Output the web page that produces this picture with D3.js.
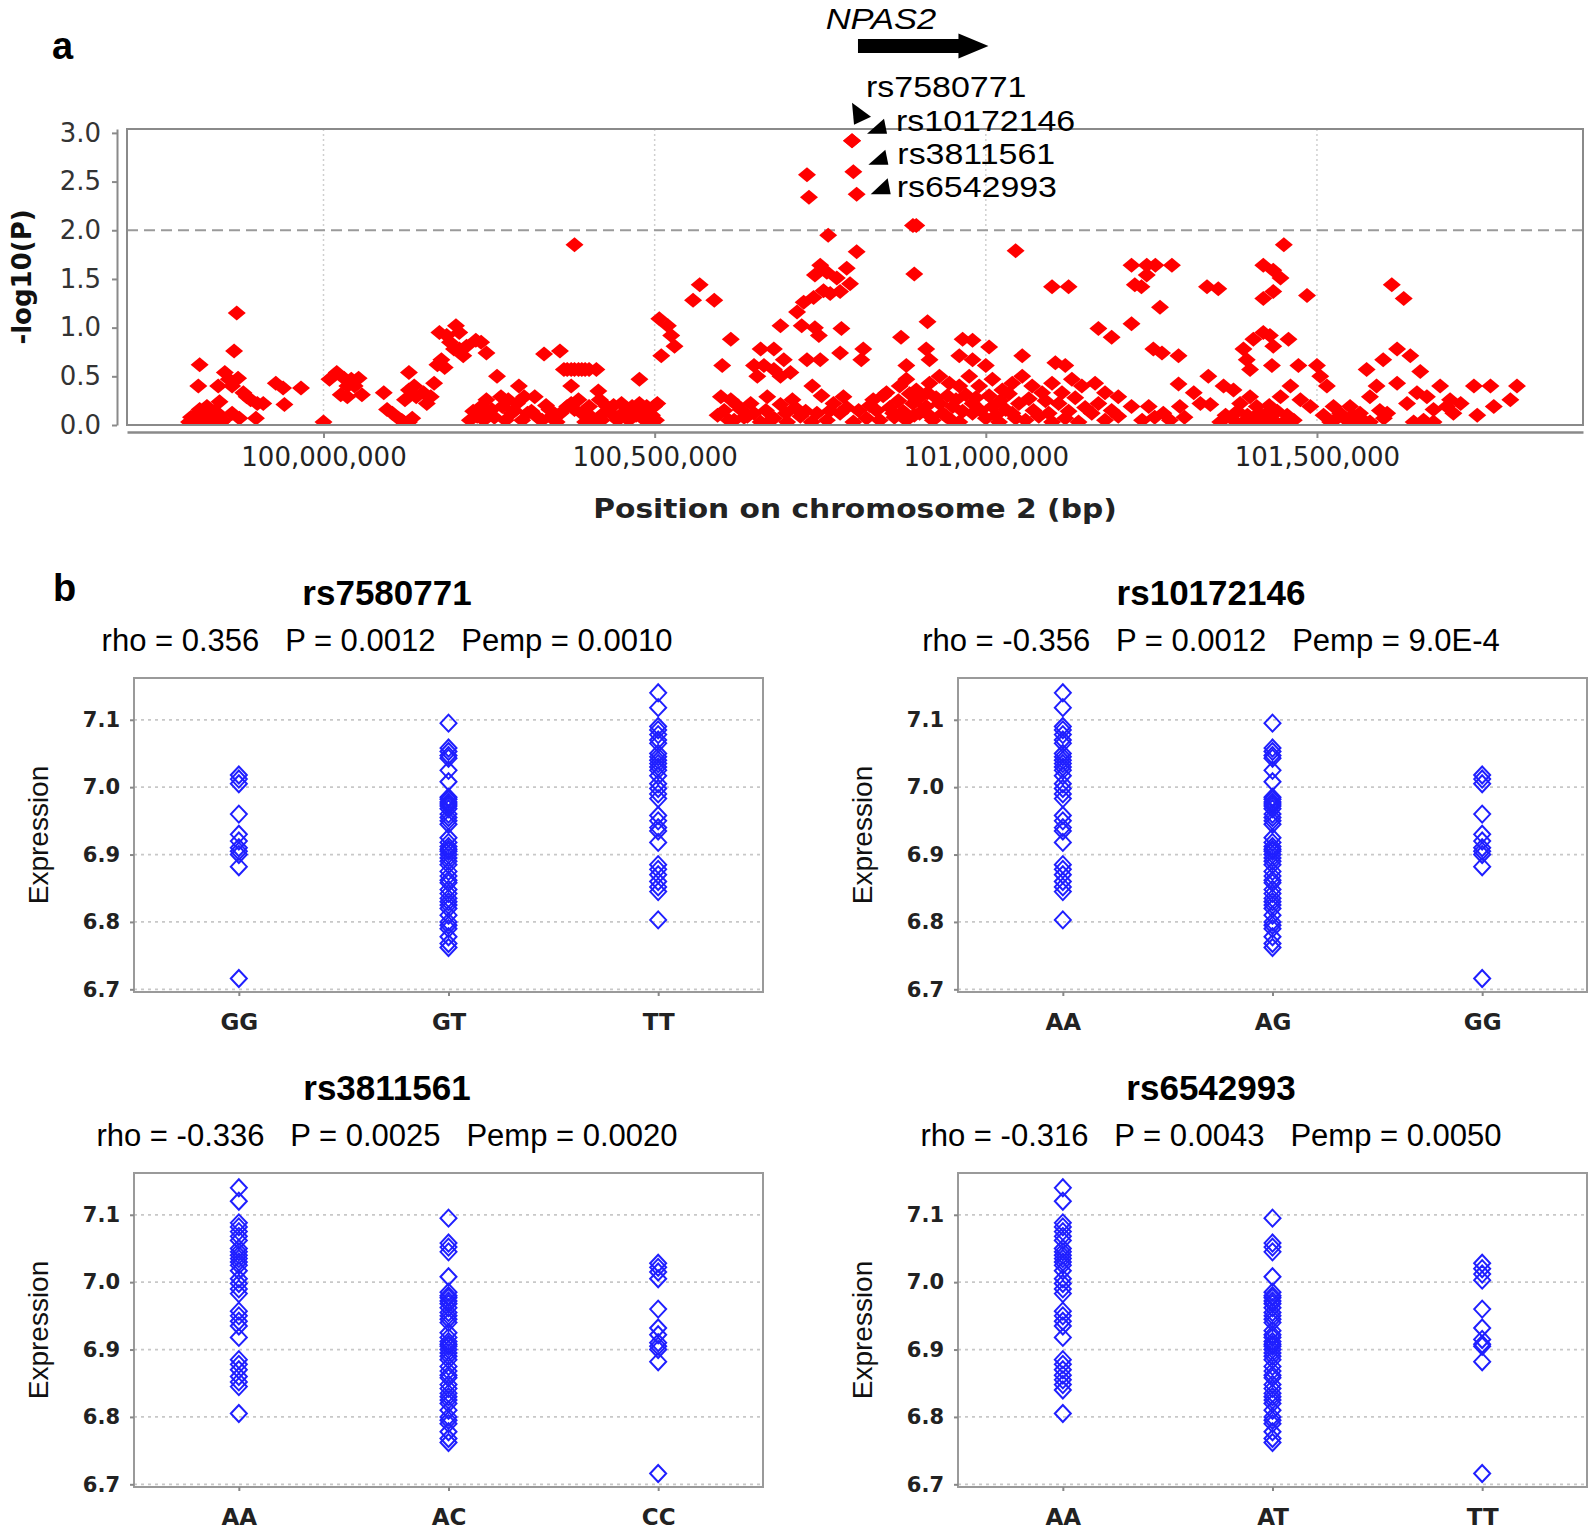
<!DOCTYPE html>
<html>
<head>
<meta charset="utf-8">
<script src="https://cdn.jsdelivr.net/npm/d3@7"></script>
<style>
  body { margin: 0; background: #fff; }
  svg { display: block; }
</style>
</head>
<body>
<script>
// panel a: SNPs around NPAS2, [position in Mb on chr2, -log10(P)]
let westSnps = [
  [99.797,0.03],[99.803,0.02],[99.805,0.09],[99.811,0.04],[99.813,0.16],[99.819,0.12],[99.822,0.02],[99.824,0.19],[99.827,0.03],[99.830,0.09],[99.835,0.14],[99.838,0.03],[99.841,0.07],[99.846,0.03],
  [99.800,0.08],[99.808,0.05],[99.816,0.07],[99.832,0.05],[99.844,0.10],[99.849,0.05],
  [99.813,0.62],[99.811,0.40],[99.843,0.24],[99.841,0.40],[99.851,0.54],[99.857,0.47],[99.862,0.40],[99.865,0.76],[99.869,1.15],[99.871,0.48],[99.862,0.12],[99.873,0.07],[99.879,0.33],[99.884,0.29],[99.890,0.26],[99.898,0.07],[99.900,0.22],[99.909,0.22],[99.928,0.43],[99.939,0.38],[99.941,0.21],[99.966,0.38],
  [100.000,0.03],[100.009,0.47],[100.020,0.54],[100.031,0.48],[100.042,0.47],[100.053,0.48],[100.036,0.40],[100.026,0.31],[100.036,0.29],[100.058,0.31],[100.047,0.40],
  [100.091,0.33],[100.096,0.16],[100.104,0.12],[100.113,0.07],[100.121,0.03],[100.129,0.54],[100.123,0.26],[100.129,0.36],[100.137,0.40],[100.140,0.29],[100.151,0.33],[100.156,0.22],[100.162,0.29],[100.167,0.43],[100.172,0.62],[100.178,0.67],[100.183,0.59],[100.175,0.95],[100.186,0.92],[100.200,1.02],[100.205,0.95],[100.191,0.85],[100.197,0.78],[100.211,0.71],[100.216,0.81],[100.230,0.87],[100.238,0.85],[100.246,0.74],[100.205,0.78],[100.118,0.05],[100.129,0.03],[100.134,0.07],
  [100.221,0.05],[100.232,0.09],[100.238,0.19],[100.246,0.26],[100.249,0.12],[100.254,0.16],[100.262,0.50],[100.268,0.29],[100.270,0.19],[100.279,0.26],[100.284,0.12],[100.292,0.22],[100.295,0.40],[100.303,0.29],[100.308,0.12],[100.319,0.29],[100.325,0.07],[100.333,0.73],[100.341,0.16],[100.352,0.03],[100.357,0.76],
  [100.226,0.14],[100.242,0.05],[100.258,0.08],[100.275,0.05],[100.288,0.15],[100.300,0.05],[100.314,0.14],[100.330,0.05],[100.336,0.20],[100.346,0.10],[100.358,0.12],
  [100.363,0.57],[100.368,0.57],[100.374,0.57],[100.379,0.57],[100.385,0.57],[100.390,0.57],[100.395,0.57],[100.401,0.57],[100.412,0.57],[100.379,1.85],[100.374,0.40],[100.368,0.19],[100.374,0.22],[100.379,0.16],[100.385,0.26],[100.390,0.12],[100.401,0.19],[100.415,0.35],[100.417,0.26],[100.423,0.12],[100.428,0.19],[100.434,0.12],[100.444,0.05],[100.450,0.22],[100.455,0.12],[100.466,0.19],[100.477,0.47],[100.477,0.22],[100.483,0.16],[100.488,0.19],[100.499,0.19],[100.504,0.22],[100.507,1.09],[100.510,0.71],[100.461,0.05],[100.493,0.05],[100.412,0.05],[100.395,0.03],
  [100.405,0.08],[100.420,0.05],[100.438,0.20],[100.448,0.10],[100.472,0.10],[100.485,0.05],[100.496,0.10],[100.502,0.05]
];
let centreSnps = [
  [100.730,2.57],[100.733,2.34],[100.762,1.95],[100.890,2.05],[100.895,2.05],[100.805,1.78],[100.750,1.64],[100.742,1.54],[100.760,1.57],[100.790,1.61],[100.775,1.51],[100.795,1.45],[100.780,1.37],[100.765,1.35],[100.755,1.38],[100.740,1.31],[100.725,1.26],[100.715,1.16],[100.892,1.55],[101.045,1.79],[101.100,1.42],[101.125,1.42],[101.220,1.64],[101.225,1.44],
  [100.568,1.44],[100.558,1.28],[100.590,1.28],[100.520,1.02],[100.525,0.92],[100.530,0.81],[100.615,0.88],[100.690,1.02],[100.722,1.02],[100.748,0.92],[100.742,1.00],[100.782,0.99],[100.912,1.06],[100.872,0.90],[101.005,0.80],[100.965,0.88],[100.980,0.87],[101.170,0.99],[101.190,0.90],[101.220,1.04],
  [100.602,0.61],[100.660,0.78],[100.680,0.78],[100.650,0.61],[100.665,0.61],[100.680,0.57],[100.695,0.67],[100.705,0.54],[100.730,0.67],[100.750,0.67],[100.780,0.74],[100.815,0.78],[100.812,0.67],[100.655,0.50],[100.690,0.50],[100.910,0.78],[100.915,0.67],[100.880,0.61],[100.960,0.71],[100.980,0.67],[101.000,0.61],[101.055,0.71],[101.105,0.64],[101.120,0.61],
  [100.738,0.40],[100.670,0.29],[100.690,0.21],[100.708,0.26],[100.600,0.29],[100.615,0.26],[100.630,0.16],[100.645,0.22],[100.770,0.22],[100.785,0.29],[100.830,0.26],[100.850,0.33],[100.870,0.40],[100.880,0.47],[100.895,0.36],[100.915,0.43],[100.930,0.50],[100.945,0.43],[100.960,0.40],[100.975,0.50],[100.990,0.40],[101.010,0.47],[101.025,0.36],[101.040,0.43],[101.055,0.50],[101.070,0.40],[101.085,0.33],[101.100,0.43],[101.115,0.33],[101.130,0.47],[101.145,0.40],[101.165,0.43],[101.180,0.33],[101.200,0.29],[101.220,0.19],
  [100.620,0.05],[100.640,0.09],[100.660,0.03],[100.680,0.07],[100.700,0.03],[100.720,0.09],[100.737,0.03],[100.760,0.05],[100.780,0.12],[100.800,0.03],[100.820,0.07],[100.840,0.05],[100.860,0.12],[100.880,0.05],[100.900,0.12],[100.920,0.05],[100.940,0.09],[100.960,0.03],[100.980,0.12],[101.000,0.07],[101.020,0.03],[101.040,0.12],[101.060,0.05],[101.080,0.09],[101.100,0.03],[101.120,0.07],[101.140,0.03],[101.160,0.12],[101.180,0.05],[101.200,0.09],[100.980,0.22],[100.950,0.19],[100.930,0.22],[100.910,0.19],[100.890,0.22],[101.010,0.19],[101.050,0.22],
  [100.595,0.10],[100.605,0.15],[100.612,0.05],[100.625,0.20],[100.635,0.08],[100.650,0.12],[100.668,0.15],[100.675,0.05],[100.698,0.12],[100.712,0.18],[100.728,0.14],[100.745,0.12],[100.752,0.30],[100.765,0.15],[100.790,0.18],[100.808,0.15],[100.825,0.20],
  [100.835,0.15],[100.845,0.30],[100.855,0.18],[100.862,0.08],[100.868,0.25],[100.875,0.14],[100.885,0.32],[100.892,0.10],[100.898,0.27],[100.905,0.15],[100.912,0.33],[100.918,0.08],[100.925,0.28],[100.935,0.12],[100.942,0.30],[100.948,0.05],[100.955,0.26],[100.965,0.14],[100.970,0.31],[100.985,0.28],[100.992,0.15],[101.005,0.30],[101.015,0.10],[101.022,0.25],[101.030,0.16],[101.035,0.32],[101.045,0.07],[101.065,0.27],[101.072,0.15],[101.090,0.25],[101.095,0.12],[101.110,0.22],[101.125,0.14],[101.135,0.28],[101.150,0.18],[101.170,0.22],[101.190,0.15]
];
let eastSnps = [
  [101.243,1.64],[101.256,1.64],[101.281,1.64],[101.243,1.54],[101.235,1.42],[101.263,1.21],[101.334,1.42],[101.351,1.40],[101.419,1.64],[101.434,1.59],[101.445,1.51],[101.419,1.30],[101.434,1.37],[101.450,1.85],[101.485,1.33],[101.613,1.44],[101.631,1.30],
  [101.253,0.78],[101.266,0.74],[101.291,0.71],[101.389,0.78],[101.404,0.88],[101.419,0.95],[101.429,0.92],[101.434,0.81],[101.457,0.88],[101.394,0.67],[101.399,0.57],[101.432,0.61],[101.472,0.61],[101.500,0.61],[101.505,0.50],[101.621,0.78],[101.641,0.71],[101.600,0.67],[101.575,0.57],[101.656,0.55],[101.336,0.50],[101.291,0.42],[101.314,0.33],
  [101.246,0.19],[101.268,0.12],[101.293,0.19],[101.324,0.22],[101.339,0.21],[101.359,0.40],[101.374,0.36],[101.384,0.22],[101.399,0.29],[101.409,0.19],[101.424,0.12],[101.445,0.29],[101.460,0.40],[101.475,0.26],[101.490,0.19],[101.515,0.40],[101.525,0.19],[101.535,0.12],[101.550,0.19],[101.565,0.12],[101.580,0.29],[101.590,0.40],[101.606,0.12],[101.621,0.43],[101.636,0.22],[101.651,0.33],[101.666,0.29],[101.686,0.40],[101.701,0.26],[101.717,0.22],[101.737,0.40],[101.762,0.40],[101.767,0.19],[101.792,0.26],[101.802,0.40],[101.742,0.10],[101.676,0.16],[101.696,0.19],[101.706,0.12],
  [101.354,0.03],[101.374,0.05],[101.389,0.03],[101.404,0.05],[101.419,0.03],[101.434,0.05],[101.450,0.03],[101.520,0.03],[101.530,0.07],[101.545,0.05],[101.560,0.03],[101.580,0.03],[101.601,0.07],[101.646,0.03],[101.661,0.05],[101.676,0.03],
  [101.236,0.05],[101.255,0.08],[101.278,0.05],[101.300,0.08],[101.362,0.10],[101.380,0.14],[101.395,0.10],[101.412,0.12],[101.428,0.20],[101.440,0.14],[101.455,0.10],[101.465,0.05],[101.510,0.10],[101.540,0.08],[101.555,0.10],[101.570,0.05],[101.595,0.15]
];

// the four labelled SNPs
let leadSnps = ["rs7580771", "rs10172146", "rs3811561", "rs6542993"];
let leadPos = [100.798, 100.798, 100.800, 100.805];
let leadLogP = [2.92, 2.92, 2.60, 2.37];

let npas2Start = 100.807, npas2End = 101.004;   // Mb

let xTicks = [100000000, 100500000, 101000000, 101500000];
let yTicks = [0, 0.5, 1.0, 1.5, 2.0, 2.5, 3.0];
let threshold = 2.0;

// panel b: expression by genotype
let snpTitles = ["rs7580771", "rs10172146", "rs3811561", "rs6542993"];
let snpStats = [
  "rho = 0.356   P = 0.0012   Pemp = 0.0010",
  "rho = -0.356   P = 0.0012   Pemp = 9.0E-4",
  "rho = -0.336   P = 0.0025   Pemp = 0.0020",
  "rho = -0.316   P = 0.0043   Pemp = 0.0050"
];
let genotypes = [["GG", "GT", "TT"], ["AA", "AG", "GG"], ["AA", "AC", "CC"], ["AA", "AT", "TT"]];
let exprTicks = [6.7, 6.8, 6.9, 7.0, 7.1];

let rs7580771_GG = [7.018, 7.012, 7.005, 6.960, 6.930, 6.920, 6.910, 6.905, 6.900, 6.882, 6.716];
let rs7580771_GT = [7.095, 7.058, 7.053, 7.047, 7.043, 7.025, 7.008, 6.985, 6.982, 6.978, 6.975, 6.972, 6.968, 6.960, 6.955, 6.950, 6.945, 6.925, 6.918, 6.912, 6.908, 6.905, 6.900, 6.895, 6.890, 6.885, 6.875, 6.868, 6.862, 6.858, 6.848, 6.842, 6.835, 6.830, 6.825, 6.820, 6.810, 6.800, 6.795, 6.790, 6.778, 6.768, 6.762];
let rs7580771_TT = [7.140, 7.118, 7.090, 7.085, 7.078, 7.070, 7.065, 7.050, 7.045, 7.040, 7.035, 7.030, 7.025, 7.017, 7.005, 6.998, 6.990, 6.983, 6.958, 6.950, 6.940, 6.935, 6.918, 6.885, 6.878, 6.870, 6.860, 6.852, 6.845, 6.803];

let rs10172146_AA = [7.140, 7.118, 7.090, 7.085, 7.078, 7.070, 7.065, 7.050, 7.045, 7.040, 7.035, 7.030, 7.025, 7.017, 7.005, 6.998, 6.990, 6.983, 6.958, 6.950, 6.940, 6.935, 6.918, 6.885, 6.878, 6.870, 6.860, 6.852, 6.845, 6.803];
let rs10172146_AG = [7.095, 7.058, 7.053, 7.047, 7.043, 7.025, 7.008, 6.985, 6.982, 6.978, 6.975, 6.972, 6.968, 6.960, 6.955, 6.950, 6.945, 6.925, 6.918, 6.912, 6.908, 6.905, 6.900, 6.895, 6.890, 6.885, 6.875, 6.868, 6.862, 6.858, 6.848, 6.842, 6.835, 6.830, 6.825, 6.820, 6.810, 6.800, 6.795, 6.790, 6.778, 6.768, 6.762];
let rs10172146_GG = [7.018, 7.012, 7.005, 6.960, 6.930, 6.920, 6.910, 6.905, 6.900, 6.882, 6.716];

let rs3811561_AA = [7.140, 7.120, 7.088, 7.082, 7.075, 7.068, 7.062, 7.050, 7.045, 7.040, 7.035, 7.030, 7.025, 7.017, 7.005, 6.998, 6.990, 6.983, 6.957, 6.950, 6.942, 6.935, 6.918, 6.885, 6.878, 6.870, 6.860, 6.852, 6.845, 6.805];
let rs3811561_AC = [7.095, 7.058, 7.052, 7.045, 7.008, 6.985, 6.980, 6.977, 6.972, 6.968, 6.962, 6.955, 6.950, 6.945, 6.940, 6.925, 6.918, 6.912, 6.908, 6.905, 6.900, 6.895, 6.890, 6.885, 6.875, 6.868, 6.862, 6.858, 6.848, 6.842, 6.835, 6.830, 6.825, 6.820, 6.810, 6.800, 6.795, 6.790, 6.778, 6.768, 6.762];
let rs3811561_CC = [7.028, 7.022, 7.015, 7.005, 6.960, 6.932, 6.922, 6.910, 6.905, 6.900, 6.882, 6.716];

let rs6542993_AA = [7.140, 7.120, 7.088, 7.082, 7.075, 7.068, 7.062, 7.050, 7.045, 7.040, 7.035, 7.030, 7.025, 7.017, 7.005, 6.998, 6.990, 6.983, 6.957, 6.950, 6.942, 6.935, 6.918, 6.885, 6.878, 6.870, 6.862, 6.855, 6.848, 6.840, 6.805];
let rs6542993_AT = [7.095, 7.058, 7.052, 7.045, 7.008, 6.985, 6.980, 6.977, 6.972, 6.968, 6.962, 6.955, 6.950, 6.945, 6.940, 6.928, 6.922, 6.918, 6.912, 6.908, 6.905, 6.900, 6.895, 6.890, 6.885, 6.875, 6.868, 6.862, 6.858, 6.848, 6.842, 6.835, 6.830, 6.825, 6.820, 6.810, 6.800, 6.795, 6.790, 6.778, 6.768, 6.762];
let rs6542993_TT = [7.028, 7.020, 7.012, 7.003, 6.960, 6.932, 6.915, 6.908, 6.905, 6.882, 6.716];

let exprData = [
  [rs7580771_GG, rs7580771_GT, rs7580771_TT],
  [rs10172146_AA, rs10172146_AG, rs10172146_GG],
  [rs3811561_AA, rs3811561_AC, rs3811561_CC],
  [rs6542993_AA, rs6542993_AT, rs6542993_TT]
];


let svgWidth = 1595;
let svgHeight = 1530;

let svg = d3.select("body")
    .append("svg")
    .attr("width", svgWidth)
    .attr("height", svgHeight)
    .style("font-family", "'Liberation Sans', Arial, sans-serif");

// stretch a text horizontally so it reads like the wider font of the original
function widen(sel, k) {
    let w = sel.node().getComputedTextLength();
    sel.attr("textLength", w * k).attr("lengthAdjust", "spacingAndGlyphs");
}

// ================= panel a =================
let frameA = { left: 127, right: 1583, top: 129, bottom: 425 };

let xScale = d3.scaleLinear()
    .domain([99.7033e6, 101.9017e6])
    .range([frameA.left, frameA.right]);

let yScale = d3.scaleLinear()
    .domain([0, 3.04])
    .range([frameA.bottom, frameA.top]);

svg.append("defs").append("clipPath")
    .attr("id", "clipA")
    .append("rect")
    .attr("x", frameA.left)
    .attr("y", frameA.top)
    .attr("width", frameA.right - frameA.left)
    .attr("height", frameA.bottom - frameA.top);

// vertical dotted gridlines
svg.append("g").selectAll("line")
    .data(xTicks)
    .enter()
    .append("line")
    .attr("x1", d => xScale(d))
    .attr("x2", d => xScale(d))
    .attr("y1", frameA.top)
    .attr("y2", frameA.bottom)
    .attr("stroke", "#cfcfcf")
    .attr("stroke-width", 1.5)
    .attr("stroke-dasharray", "2,3");

// significance line
svg.append("line")
    .attr("x1", frameA.left)
    .attr("x2", frameA.right)
    .attr("y1", yScale(threshold))
    .attr("y2", yScale(threshold))
    .attr("stroke", "#9a9a9a")
    .attr("stroke-width", 2)
    .attr("stroke-dasharray", "11,6");

let allSnps = westSnps.concat(centreSnps, eastSnps);
leadPos.forEach(function (p, i) { allSnps.push([p, leadLogP[i]]); });

let redDiamond = "M-9,0L0,-7.5L9,0L0,7.5Z";

svg.append("g")
    .attr("clip-path", "url(#clipA)")
    .selectAll("path")
    .data(allSnps)
    .enter()
    .append("path")
    .attr("d", redDiamond)
    .attr("transform", d => "translate(" + xScale(d[0] * 1e6) + "," + yScale(d[1]) + ")")
    .attr("fill", "#ff0000");

// plot frame
svg.append("rect")
    .attr("x", frameA.left)
    .attr("y", frameA.top)
    .attr("width", frameA.right - frameA.left)
    .attr("height", frameA.bottom - frameA.top)
    .attr("fill", "none")
    .attr("stroke", "#8a8a8a")
    .attr("stroke-width", 2);

let yAxisA = d3.axisLeft(yScale)
    .tickValues(yTicks)
    .tickFormat(d3.format(".1f"))
    .tickSize(5)
    .tickSizeOuter(0)
    .tickPadding(11);

let gy = svg.append("g")
    .attr("transform", "translate(117,0)")
    .call(yAxisA);
gy.select(".domain").attr("stroke", "#8a8a8a").attr("stroke-width", 2);
gy.selectAll(".tick line").attr("stroke", "#8a8a8a").attr("stroke-width", 2);
gy.selectAll("text")
    .attr("font-family", "'DejaVu Sans', Verdana, sans-serif")
    .attr("font-size", 26)
    .attr("fill", "#333");

let xAxisA = d3.axisBottom(xScale)
    .tickValues(xTicks)
    .tickFormat(d3.format(","))
    .tickSize(6)
    .tickSizeOuter(0)
    .tickPadding(10);

let gx = svg.append("g")
    .attr("transform", "translate(0,432)")
    .call(xAxisA);
gx.select(".domain").attr("stroke", "#8a8a8a").attr("stroke-width", 2.5);
gx.selectAll(".tick line").attr("stroke", "#8a8a8a").attr("stroke-width", 2);
gx.selectAll("text")
    .attr("font-family", "'DejaVu Sans', Verdana, sans-serif")
    .attr("font-size", 26)
    .attr("fill", "#222");

let xTitle = svg.append("text")
    .attr("x", (frameA.left + frameA.right) / 2)
    .attr("y", 518)
    .attr("text-anchor", "middle")
    .attr("font-family", "'DejaVu Sans', Verdana, sans-serif")
    .attr("font-weight", "bold")
    .attr("font-size", 27)
    .attr("fill", "#222")
    .text("Position on chromosome 2 (bp)");
widen(xTitle, 1.1);

svg.append("text")
    .attr("transform", "translate(31," + (frameA.top + frameA.bottom) / 2 + ") rotate(-90)")
    .attr("text-anchor", "middle")
    .attr("font-family", "'DejaVu Sans', Verdana, sans-serif")
    .attr("font-weight", "bold")
    .attr("font-size", 26)
    .attr("fill", "#111")
    .text("-log10(P)");

// panel letter
svg.append("text")
    .attr("x", 52)
    .attr("y", 59)
    .attr("font-weight", "bold")
    .attr("font-size", 38)
    .text("a");

// gene arrow for NPAS2
let ax0 = xScale(npas2Start * 1e6), ax1 = xScale(npas2End * 1e6);
let ay = 46;
svg.append("path")
    .attr("d", "M" + ax0 + "," + (ay - 7) + "L" + (ax1 - 30) + "," + (ay - 7) + "L" + (ax1 - 30) + "," + (ay - 12.5) +
        "L" + ax1 + "," + ay + "L" + (ax1 - 30) + "," + (ay + 12.5) + "L" + (ax1 - 30) + "," + (ay + 7) + "L" + ax0 + "," + (ay + 7) + "Z")
    .attr("fill", "#000");

let geneLabel = svg.append("text")
    .attr("x", ax0 + 23)
    .attr("y", 29)
    .attr("text-anchor", "middle")
    .attr("font-style", "italic")
    .attr("font-size", 30)
    .text("NPAS2");
widen(geneLabel, 1.15);

// labels for the lead SNPs (offsets from their point)
let labelOffset = [[14, -44], [44, -10], [44, -8], [40, 3]];
let pointerShape = [
    [[-14, 6], [5, 20], [-12, 28]],
    [[-29, 3], [-9, 3], [-12, -12]],
    [[-29, 1], [-9, 1], [-12, -14]],
    [[-26, -3], [-6, -3], [-9, -19]]
];

leadSnps.forEach(function (name, i) {
    let tx = xScale(leadPos[i] * 1e6) + labelOffset[i][0];
    let ty = yScale(leadLogP[i]) + labelOffset[i][1];
    let t = svg.append("text")
        .attr("x", tx)
        .attr("y", ty)
        .attr("font-size", 29)
        .attr("fill", "#000")
        .text(name);
    widen(t, 1.17);
    svg.append("path")
        .attr("d", "M" + pointerShape[i].map(p => (tx + p[0]) + "," + (ty + p[1])).join("L") + "Z")
        .attr("fill", "#000");
});

// ================= panel b =================
svg.append("text")
    .attr("x", 53)
    .attr("y", 601)
    .attr("font-weight", "bold")
    .attr("font-size", 38)
    .text("b");

let blueDiamond = "M-8,0L0,-8.5L8,0L0,8.5Z";
let chartShift = [[0, 0], [824, 0], [0, 495], [824, 495]];

function drawExpression(i) {
    let g = svg.append("g")
        .attr("transform", "translate(" + chartShift[i][0] + "," + chartShift[i][1] + ")");

    let x = d3.scalePoint()
        .domain(genotypes[i])
        .range([134, 763])
        .padding(0.5);

    let y = d3.scaleLinear()
        .domain([6.696, 7.162])
        .range([992, 678]);

    g.append("g").selectAll("line")
        .data(exprTicks)
        .enter()
        .append("line")
        .attr("x1", 134)
        .attr("x2", 763)
        .attr("y1", d => y(d))
        .attr("y2", d => y(d))
        .attr("stroke", "#c8c8c8")
        .attr("stroke-width", 1.8)
        .attr("stroke-dasharray", "3,4");

    genotypes[i].forEach(function (gt, j) {
        g.append("g").selectAll("path")
            .data(exprData[i][j])
            .enter()
            .append("path")
            .attr("d", blueDiamond)
            .attr("transform", d => "translate(" + x(gt) + "," + y(d) + ")")
            .attr("fill", "none")
            .attr("stroke", "#1f1fff")
            .attr("stroke-width", 2);
    });

    g.append("rect")
        .attr("x", 134)
        .attr("y", 678)
        .attr("width", 629)
        .attr("height", 314)
        .attr("fill", "none")
        .attr("stroke", "#9a9a9a")
        .attr("stroke-width", 2);

    let ya = g.append("g")
        .attr("transform", "translate(134,0)")
        .call(d3.axisLeft(y).tickValues(exprTicks).tickFormat(d3.format(".1f")).tickSize(4).tickSizeOuter(0).tickPadding(10));
    ya.select(".domain").remove();
    ya.selectAll(".tick line").attr("stroke", "#888").attr("stroke-width", 2);
    ya.selectAll("text")
        .attr("font-family", "'DejaVu Sans', Verdana, sans-serif")
        .attr("font-weight", "bold")
        .attr("font-size", 21)
        .attr("fill", "#222");

    let xa = g.append("g")
        .attr("transform", "translate(0,992)")
        .call(d3.axisBottom(x).tickSize(4).tickSizeOuter(0).tickPadding(18));
    xa.select(".domain").remove();
    xa.selectAll(".tick line").attr("stroke", "#888").attr("stroke-width", 2);
    xa.selectAll("text")
        .attr("font-family", "'DejaVu Sans', Verdana, sans-serif")
        .attr("font-weight", "bold")
        .attr("font-size", 23)
        .attr("fill", "#222");

    g.append("text")
        .attr("transform", "translate(48,835) rotate(-90)")
        .attr("text-anchor", "middle")
        .attr("font-size", 28)
        .attr("fill", "#111")
        .text("Expression");

    g.append("text")
        .attr("x", 387)
        .attr("y", 605)
        .attr("text-anchor", "middle")
        .attr("font-weight", "bold")
        .attr("font-size", 35)
        .attr("fill", "#000")
        .text(snpTitles[i]);

    g.append("text")
        .attr("x", 387)
        .attr("y", 651)
        .attr("text-anchor", "middle")
        .attr("font-size", 31)
        .attr("fill", "#000")
        .style("white-space", "pre")
        .text(snpStats[i]);
}

d3.range(4).forEach(drawExpression);
</script>
</body>
</html>
